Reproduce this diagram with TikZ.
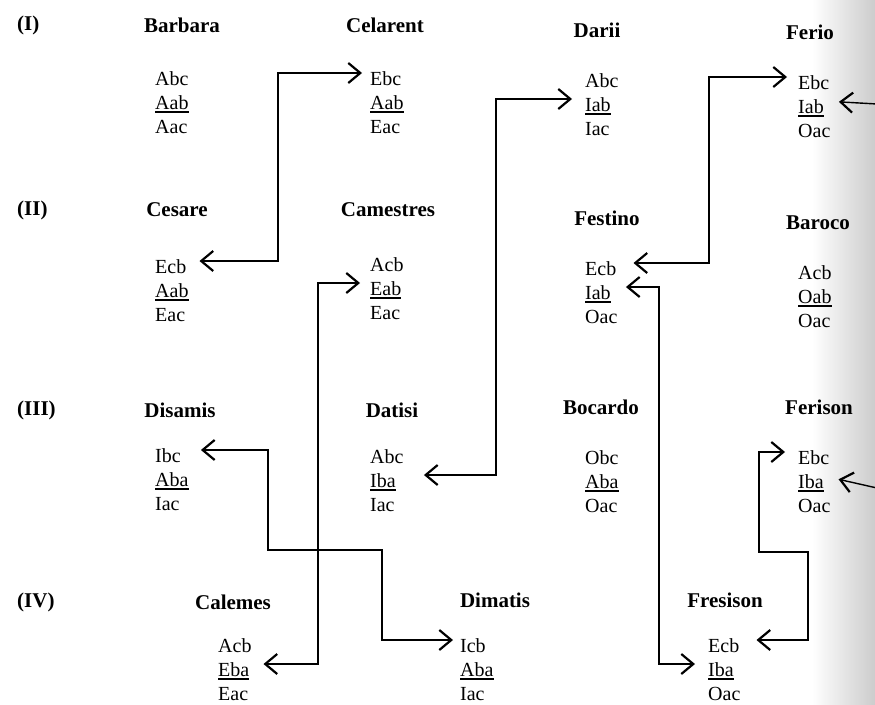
\documentclass[tikz,border=0pt]{standalone}
\usepackage{fontspec}
\setmainfont{Liberation Serif}
\usetikzlibrary{arrows.meta}
\tikzset{
  ttl/.style={font=\fontsize{21}{24}\selectfont\bfseries, inner sep=0pt},
  rowlbl/.style={ttl, anchor=west},
  prem/.style={font=\fontsize{20}{24}\selectfont, inner sep=0pt, anchor=west, text height=24pt, text depth=0pt},
  rulel/.style={line width=1.1pt},
  tip/.tip={Straight Barb[length=12pt,width=20pt,line width=2.2pt]},
  link/.style={line width=1.4pt, tip-tip},
  onelink/.style={line width=1.4pt, -tip},
}
\newcommand{\syllo}[9]{%
  \node[ttl] (#1) at (#3,#4) {#2};
  \node[prem] (#1a) at (#5,#6-5) {#7};
  \node[prem] (#1b) at (#5,#6+19) {#8};
  \node[prem] (#1c) at (#5,#6+43) {#9};
  \draw[rulel] ([yshift=-3pt]#1b.base west) -- ([yshift=-3pt]#1b.base east);
}
\begin{document}
\begin{tikzpicture}[x=1pt,y=-1pt]
\useasboundingbox (0,0) rectangle (875,704);
\shade[left color=white, right color=black!20] (812,0) rectangle (875,704);
% row labels
\node[rowlbl] (r1) at (17,25) {(I)};
\node[rowlbl] (r2) at (17,210) {(II)};
\node[rowlbl] (r3) at (17,410) {(III)};
\node[rowlbl] (r4) at (17,602) {(IV)};
% moods
\syllo{barbara}{Barbara}{182}{25}{155}{78}{Abc}{Aab}{Aac}
\syllo{celarent}{Celarent}{385}{25}{370}{78}{Ebc}{Aab}{Eac}
\syllo{darii}{Darii}{597}{30}{585}{80}{Abc}{Iab}{Iac}
\syllo{ferio}{Ferio}{810}{32}{798}{82}{Ebc}{Iab}{Oac}
\syllo{cesare}{Cesare}{177}{210}{155}{266}{Ecb}{Aab}{Eac}
\syllo{camestres}{Camestres}{388}{210}{370}{264}{Acb}{Eab}{Eac}
\syllo{festino}{Festino}{607}{218}{585}{268}{Ecb}{Iab}{Oac}
\syllo{baroco}{Baroco}{818}{223}{798}{272}{Acb}{Oab}{Oac}
\syllo{disamis}{Disamis}{180}{410}{155}{455}{Ibc}{Aba}{Iac}
\syllo{datisi}{Datisi}{392}{410}{370}{456}{Abc}{Iba}{Iac}
\syllo{bocardo}{Bocardo}{601}{407}{585}{457}{Obc}{Aba}{Oac}
\syllo{ferison}{Ferison}{819}{407}{798}{457}{Ebc}{Iba}{Oac}
\syllo{calemes}{Calemes}{233}{602}{218}{645}{Acb}{Eba}{Eac}
\syllo{dimatis}{Dimatis}{495}{600}{460}{645}{Icb}{Aba}{Iac}
\syllo{fresison}{Fresison}{725}{600}{708}{645}{Ecb}{Iba}{Oac}
% corner points
\coordinate (c1) at (278,150);
\coordinate (c2) at (318,450);
\coordinate (c3) at (496,300);
\coordinate (c4) at (709,150);
\coordinate (c5) at (659,450);
\coordinate (k1) at (268,550);
\coordinate (k2) at (382,600);
\coordinate (m1) at (759,552);
\coordinate (m2) at (808,600);
\coordinate (e1) at (877,104);
\coordinate (e2) at (877,488);
% connectors
\draw[link, shorten <=13pt, shorten >=8pt] (cesarea.east) -| (c1) |- (celarenta.west);
\draw[link, shorten <=10pt, shorten >=14pt] (camestresb.west) -| (c2) |- (calemesb.east);
\draw[link, shorten <=28pt, shorten >=13pt] (datisib.east) -| (c3) |- (dariib.west);
\draw[link, shorten <=17pt, shorten >=11pt] (festinoa.east) -| (c4) |- (ferioa.west);
\draw[link, shorten <=15pt, shorten >=13pt] (festinob.east) -| (c5) |- (fresisonb.west);
\draw[link, shorten <=20pt, shorten >=7pt] (disamisa.east) -| (k1) -| (k2) |- (dimatisa.west);
\draw[link, shorten <=13pt, shorten >=17pt] (ferisona.west) -| (m1) -| (m2) |- (fresisona.east);
\draw[onelink, shorten >=15pt] (e1) -- (feriob.east);
\draw[onelink, shorten >=15pt] (e2) -- (ferisonb.east);
\end{tikzpicture}
\end{document}
